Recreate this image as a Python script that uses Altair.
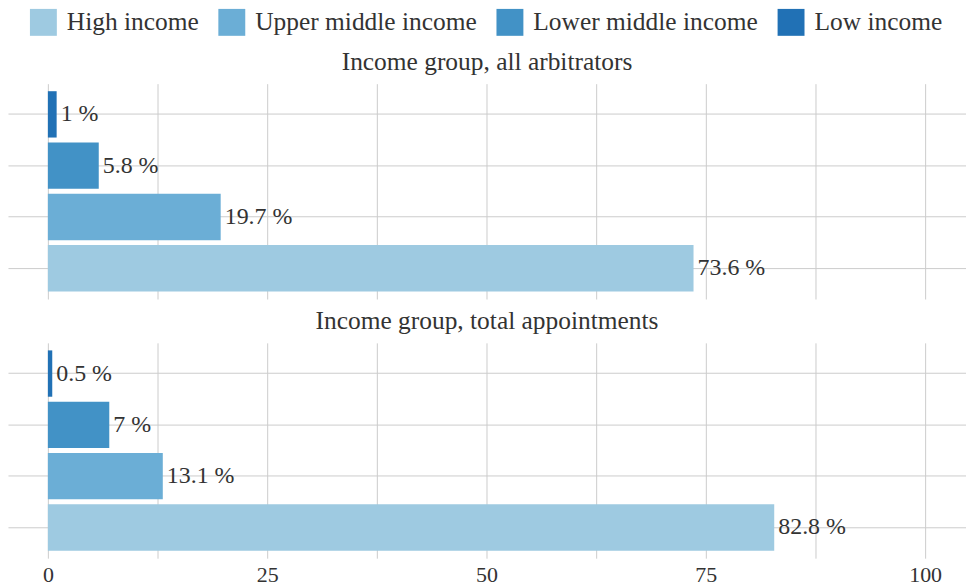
import altair as alt
import pandas as pd

categories = ["Low income", "Lower middle income", "Upper middle income", "High income"]
legend_order = ["High income", "Upper middle income", "Lower middle income", "Low income"]
colors = ["#9ecae1", "#6baed6", "#4292c6", "#2171b5"]
arbitrators = [1, 5.8, 19.7, 73.6]
appointments = [0.5, 7, 13.1, 82.8]
panel_titles = ["Income group, all arbitrators", "Income group, total appointments"]
x_grid = [0, 12.5, 25, 37.5, 50, 62.5, 75, 87.5, 100]

FONT = "Liberation Serif"
TEXT_COLOR = "#333333"
GRID_COLOR = "#cccccc"


def panel(values, title, show_labels):
    df = pd.DataFrame({
        "group": categories,
        "value": values,
        "label": [f"{v:g} %" for v in values],
    })
    base = alt.Chart(df)
    x = alt.X(
        "value:Q",
        scale=alt.Scale(domain=[-4.545, 104.66], nice=False, zero=False),
        axis=alt.Axis(
            values=x_grid,
            grid=True,
            gridColor=GRID_COLOR,
            labels=show_labels,
            labelExpr="datum.value % 25 == 0 ? datum.label : ''",
            labelOverlap=False,
            labelFlush=False,
            labelFont=FONT,
            labelFontSize=22,
            labelColor=TEXT_COLOR,
            labelPadding=6,
            ticks=False,
            domain=False,
            title=None,
        ),
    )
    y = alt.Y(
        "group:N",
        sort=categories,
        scale=alt.Scale(paddingInner=0.097, paddingOuter=0.147),
        axis=alt.Axis(grid=True, gridColor=GRID_COLOR, labels=False, ticks=False,
                      domain=False, title=None),
    )
    bars = base.mark_bar().encode(
        x=x,
        x2=alt.datum(0),
        y=y,
        color=alt.Color(
            "group:N",
            scale=alt.Scale(domain=legend_order, range=colors),
            legend=alt.Legend(
                orient="none",
                legendX=22,
                legendY=-75,
                direction="horizontal",
                title=None,
                symbolType="square",
                symbolSize=729,
                symbolStrokeWidth=0,
                symbolOpacity=1,
                labelFont=FONT,
                labelFontSize=25.5,
                labelColor=TEXT_COLOR,
                labelOffset=10,
                labelLimit=400,
                columnPadding=19,
                padding=0,
            ),
        ),
    )
    labels = base.mark_text(
        align="left", baseline="middle", dx=4, font=FONT, fontSize=24, color=TEXT_COLOR
    ).encode(x="value:Q", y=alt.Y("group:N", sort=categories), text="label:N")
    return (bars + labels).properties(
        width=961,
        height=216,
        title=alt.TitleParams(
            text=title,
            font=FONT,
            fontSize=25.5,
            fontWeight="normal",
            color=TEXT_COLOR,
            anchor="middle",
            baseline="alphabetic",
            offset=-12,
        ),
    )


top = panel(arbitrators, panel_titles[0], False)
bottom = panel(appointments, panel_titles[1], True)

chart = (
    alt.vconcat(top, bottom, spacing=10)
    .properties(padding=0)
    .configure_view(stroke=None)
)

chart.save("out.html", embed_options={"renderer": "svg", "actions": False})
